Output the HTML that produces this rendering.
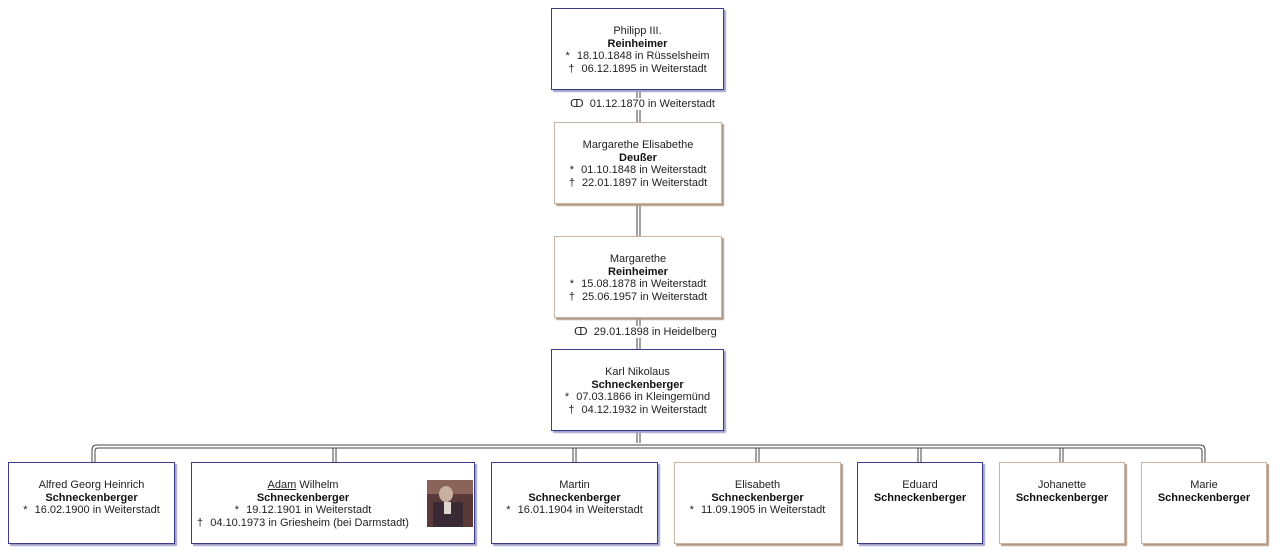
<!DOCTYPE html>
<html><head><meta charset="utf-8"><style>
body{margin:0;width:1283px;height:560px;background:#fff;position:relative;overflow:hidden;font-family:"Liberation Sans",Arial,sans-serif;font-size:11px;color:#222}
.b{position:absolute;box-sizing:border-box;background:#fff;text-align:center;line-height:12.5px;padding-top:16px}
.m{border:1px solid #3c3c8c;box-shadow:2px 2px 1px #a0a0c8}
.f{border:1px solid #c8b4a0;box-shadow:2px 2px 1px #b09a88}
b{font-weight:bold;color:#111}
.s{margin-right:4px}
.lbl{position:absolute;font-size:11px;background:#fff;padding:0 2px;line-height:12px}
svg{position:absolute;left:0;top:0}
</style></head><body>
<svg width="1283" height="560">
<g stroke="#444" stroke-width="1" fill="none">
<line x1="637" y1="90" x2="637" y2="122"/><line x1="640" y1="90" x2="640" y2="122"/>
<line x1="637" y1="204" x2="637" y2="236"/><line x1="640" y1="204" x2="640" y2="236"/>
<line x1="637" y1="318" x2="637" y2="349"/><line x1="640" y1="318" x2="640" y2="349"/>
<line x1="637" y1="431" x2="637" y2="443"/><line x1="640" y1="431" x2="640" y2="443"/>
<path d="M92 462 V450 Q92 445 97 445 H1200 Q1205 445 1205 450 V462"/>
<path d="M95 462 V451 Q95 448 98 448 H1199 Q1202 448 1202 451 V462"/>
<line x1="333" y1="448" x2="333" y2="462"/><line x1="336" y1="448" x2="336" y2="462"/>
<line x1="573" y1="448" x2="573" y2="462"/><line x1="576" y1="448" x2="576" y2="462"/>
<line x1="756" y1="448" x2="756" y2="462"/><line x1="759" y1="448" x2="759" y2="462"/>
<line x1="918" y1="448" x2="918" y2="462"/><line x1="921" y1="448" x2="921" y2="462"/>
<line x1="1060" y1="448" x2="1060" y2="462"/><line x1="1063" y1="448" x2="1063" y2="462"/>
</g></svg>
<div class="b m" style="left:551px;top:8px;width:173px;height:82px">Philipp III.<br><b>Reinheimer</b><br><span class="s">*</span> 18.10.1848 in Rüsselsheim<br><span class="s">†</span> 06.12.1895 in Weiterstadt</div>
<div class="lbl" style="left:568px;top:98px">ↀ&nbsp; 01.12.1870 in Weiterstadt</div>
<div class="b f" style="left:554px;top:122px;width:168px;height:82px">Margarethe Elisabethe<br><b>Deußer</b><br><span class="s">*</span> 01.10.1848 in Weiterstadt<br><span class="s">†</span> 22.01.1897 in Weiterstadt</div>
<div class="b f" style="left:554px;top:236px;width:168px;height:82px">Margarethe<br><b>Reinheimer</b><br><span class="s">*</span> 15.08.1878 in Weiterstadt<br><span class="s">†</span> 25.06.1957 in Weiterstadt</div>
<div class="lbl" style="left:572px;top:326px">ↀ&nbsp; 29.01.1898 in Heidelberg</div>
<div class="b m" style="left:551px;top:349px;width:173px;height:82px">Karl Nikolaus<br><b>Schneckenberger</b><br><span class="s">*</span> 07.03.1866 in Kleingemünd<br><span class="s">†</span> 04.12.1932 in Weiterstadt</div>
<div class="b m" style="left:8px;top:462px;width:167px;height:82px">Alfred Georg Heinrich<br><b>Schneckenberger</b><br><span class="s">*</span> 16.02.1900 in Weiterstadt</div>
<div class="b m" style="left:191px;top:462px;width:284px;height:82px;padding-right:60px"><u>Adam</u> Wilhelm<br><b>Schneckenberger</b><br><span class="s">*</span> 19.12.1901 in Weiterstadt<br><span class="s">†</span> 04.10.1973 in Griesheim (bei Darmstadt)
<div style="position:absolute;left:235px;top:17px;width:46px;height:47px;background:#5a3a38;overflow:hidden">
<div style="position:absolute;left:0;top:0;width:46px;height:14px;background:#8a6458"></div>
<div style="position:absolute;left:12px;top:6px;width:14px;height:16px;border-radius:50%;background:#c8b0a0"></div>
<div style="position:absolute;left:6px;top:22px;width:30px;height:25px;background:#3a2a36"></div>
<div style="position:absolute;left:17px;top:22px;width:7px;height:12px;background:#e0d8d0"></div></div></div>
<div class="b m" style="left:491px;top:462px;width:167px;height:82px">Martin<br><b>Schneckenberger</b><br><span class="s">*</span> 16.01.1904 in Weiterstadt</div>
<div class="b f" style="left:674px;top:462px;width:167px;height:82px">Elisabeth<br><b>Schneckenberger</b><br><span class="s">*</span> 11.09.1905 in Weiterstadt</div>
<div class="b m" style="left:857px;top:462px;width:126px;height:82px">Eduard<br><b>Schneckenberger</b></div>
<div class="b f" style="left:999px;top:462px;width:126px;height:82px">Johanette<br><b>Schneckenberger</b></div>
<div class="b f" style="left:1141px;top:462px;width:126px;height:82px">Marie<br><b>Schneckenberger</b></div>
</body></html>
